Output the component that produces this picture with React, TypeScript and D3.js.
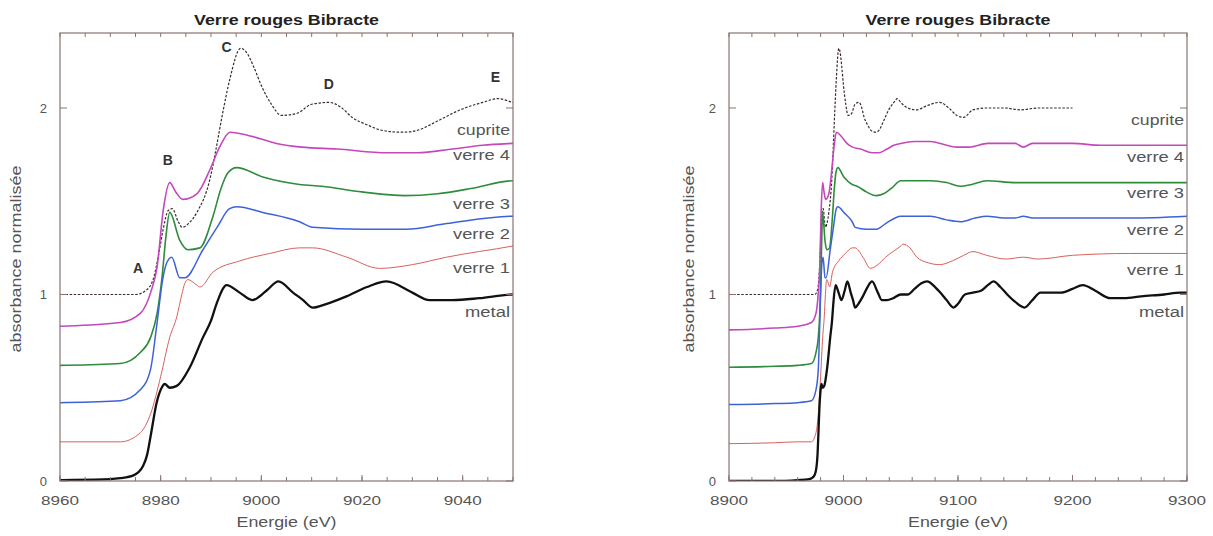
import React from 'react';
import * as d3 from 'd3';

// ---------- data (displayed, offset absorbance) ----------
const cupriteE = [8900, 8940, 8960, 8975, 8977, 8978.5, 8979.5, 8980.5, 8981.5, 8982.3, 8983.5, 8984.3, 8985.5, 8987.2, 8989.8, 8991, 8992.3, 8993.7, 8995.9, 8997, 8998.5, 9000, 9002, 9004, 9007, 9010, 9013.5, 9016, 9018, 9021, 9024, 9028, 9031, 9035, 9039.5, 9044, 9047, 9050, 9056, 9064, 9072, 9084, 9092, 9099, 9105, 9113, 9125, 9140, 9155, 9170, 9185, 9200];
const cupriteA = [1.0, 1.0, 1.0, 1.0, 1.02, 1.08, 1.2, 1.35, 1.45, 1.46, 1.39, 1.36, 1.38, 1.44, 1.62, 1.78, 1.97, 2.15, 2.32, 2.30, 2.22, 2.12, 2.02, 1.96, 1.97, 2.02, 2.03, 2.0, 1.95, 1.91, 1.88, 1.87, 1.88, 1.93, 1.99, 2.03, 2.05, 2.03, 2.0, 1.99, 2.01, 2.03, 2.0, 1.96, 1.95, 1.99, 2.0, 2.0, 1.99, 2.0, 2.0, 2.0];

const verre4E = [8900, 8940, 8960, 8972, 8976, 8978, 8979.3, 8980.5, 8981.8, 8983, 8984.4, 8987.2, 8989.8, 8991.7, 8993.8, 8997.8, 9003, 9008, 9015, 9025, 9031, 9038, 9044, 9050, 9062, 9076, 9090, 9100, 9110, 9126, 9140, 9150, 9157, 9165, 9180, 9200, 9225, 9250, 9275, 9300];
const verre4A = [0.81, 0.82, 0.83, 0.85, 0.90, 1.01, 1.15, 1.45, 1.60, 1.55, 1.51, 1.54, 1.67, 1.79, 1.87, 1.85, 1.81, 1.79, 1.78, 1.76, 1.76, 1.78, 1.80, 1.81, 1.82, 1.82, 1.80, 1.79, 1.79, 1.81, 1.81, 1.81, 1.79, 1.81, 1.81, 1.81, 1.80, 1.80, 1.80, 1.80];

const verre3E = [8900, 8940, 8960, 8972, 8976, 8978, 8979.3, 8980.3, 8981, 8981.8, 8983.8, 8985.4, 8987.8, 8990.4, 8992, 8993.3, 8995.1, 9000.3, 9007.6, 9012, 9020, 9028.5, 9035, 9042, 9050, 9062, 9076, 9090, 9102, 9112, 9125, 9150, 9175, 9200, 9250, 9300];
const verre3A = [0.61, 0.615, 0.62, 0.63, 0.69, 0.77, 0.9, 1.1, 1.3, 1.44, 1.29, 1.24, 1.25, 1.42, 1.57, 1.65, 1.68, 1.63, 1.59, 1.58, 1.55, 1.53, 1.54, 1.57, 1.61, 1.61, 1.61, 1.60, 1.58, 1.59, 1.61, 1.60, 1.60, 1.60, 1.60, 1.60];

const verre2E = [8900, 8940, 8960, 8972, 8976, 8978, 8979.2, 8980.4, 8981.2, 8982.2, 8983.8, 8984.8, 8988.4, 8991.2, 8993.7, 8995.1, 9000.3, 9007.6, 9010.2, 9020.1, 9028.8, 9036.8, 9050, 9062, 9076, 9090, 9102, 9115, 9125, 9140, 9150, 9157, 9165, 9200, 9250, 9300];
const verre2A = [0.41, 0.415, 0.42, 0.43, 0.49, 0.6, 0.83, 1.08, 1.17, 1.20, 1.09, 1.09, 1.24, 1.36, 1.46, 1.47, 1.44, 1.39, 1.36, 1.35, 1.35, 1.38, 1.42, 1.42, 1.42, 1.40, 1.39, 1.41, 1.42, 1.41, 1.41, 1.42, 1.41, 1.41, 1.41, 1.42];

const verre1E = [8900, 8940, 8960, 8972, 8976, 8978, 8980, 8981.8, 8983.2, 8984.2, 8984.8, 8985.4, 8987.2, 8987.8, 8990.4, 8995.7, 9001.7, 9007.6, 9010.2, 9017, 9023.5, 9030, 9036.8, 9050, 9052, 9058, 9064, 9074, 9084, 9095, 9105, 9113, 9125, 9142, 9157, 9170, 9200, 9250, 9300];
const verre1A = [0.2, 0.205, 0.21, 0.21, 0.26, 0.36, 0.56, 0.77, 0.88, 1.0, 1.06, 1.08, 1.05, 1.04, 1.12, 1.18, 1.22, 1.25, 1.25, 1.20, 1.14, 1.16, 1.20, 1.26, 1.27, 1.25, 1.20, 1.17, 1.16, 1.18, 1.21, 1.23, 1.21, 1.19, 1.20, 1.19, 1.21, 1.22, 1.22];

const metalE = [8900, 8940, 8960, 8970, 8972, 8974.6, 8976.5, 8977.3, 8978, 8979.2, 8980.2, 8980.8, 8981.8, 8983.2, 8985.8, 8988.4, 8990, 8991.1, 8993.1, 8995.7, 8998.2, 9001, 9003.4, 9006.3, 9008.3, 9010.2, 9013, 9016.9, 9021, 9024.9, 9030, 9033.4, 9038, 9043.3, 9050, 9056, 9062, 9068, 9073, 9080, 9086, 9090, 9096, 9100, 9106, 9113, 9120, 9126, 9131, 9137, 9143, 9150, 9158, 9165, 9172, 9180, 9190, 9200, 9209, 9220, 9233, 9245, 9260, 9280, 9294, 9300];
const metalA = [0.0, 0.0, 0.005, 0.01, 0.015, 0.03, 0.08, 0.14, 0.24, 0.42, 0.50, 0.52, 0.50, 0.51, 0.61, 0.77, 0.86, 0.95, 1.05, 1.01, 0.97, 1.02, 1.07, 1.01, 0.97, 0.93, 0.95, 0.99, 1.04, 1.07, 1.01, 0.97, 0.97, 0.98, 1.0, 1.0, 1.03, 1.06, 1.07, 1.04, 1.0, 0.97, 0.93, 0.95, 1.0, 1.01, 1.02, 1.05, 1.07, 1.04, 1.0, 0.96, 0.93, 0.97, 1.01, 1.01, 1.01, 1.03, 1.05, 1.02, 0.98, 0.98, 0.99, 1.0, 1.01, 1.01];

const seriesNames = ['cuprite', 'verre 4', 'verre 3', 'verre 2', 'verre 1', 'metal'];
const seriesE = [cupriteE, verre4E, verre3E, verre2E, verre1E, metalE];
const seriesA = [cupriteA, verre4A, verre3A, verre2A, verre1A, metalA];

const leftTicks = [8960, 8980, 9000, 9020, 9040];
const rightTicks = [8900, 9000, 9100, 9200, 9300];
const yTicks = [0, 1, 2];

const peakLabels = ['A', 'B', 'C', 'D', 'E'];
const peakE = [8975.5, 8981.4, 8993.1, 9013.4, 9046.5];
const peakA = [1.142, 1.72, 2.327, 2.129, 2.166];

const title = 'Verre rouges Bibracte';
const xTitle = 'Energie (eV)';
const yTitle = 'absorbance normalisée';

// ---------- styles ----------
const styles = [
  { stroke: '#3a2c2c', width: 1.2, dash: '2.5,1.6' },
  { stroke: '#c448bc', width: 1.6, dash: null },
  { stroke: '#2e8c3c', width: 1.6, dash: null },
  { stroke: '#3d62d8', width: 1.5, dash: null },
  { stroke: '#d8605c', width: 1.0, dash: null },
  { stroke: '#111111', width: 2.3, dash: null },
];
const labelWidths = [53, 57, 57, 57, 57, 45];
const FONT = '"Liberation Sans", Arial, Helvetica, sans-serif';
const AXIS = '#8c7272';
const TXT = '#555';

const panels = [
  { id: 'L', x0: 60, x1: 513, domain: [8960, 9050], ticks: leftTicks, minor: 5, labelY: [130, 155, 204, 234, 268, 312], peaks: true, yLabelX: 16 },
  { id: 'R', x0: 729, x1: 1187, domain: [8900, 9300], ticks: rightTicks, minor: 20, labelY: [120, 157, 193, 230, 270, 312], peaks: false, yLabelX: 689 },
];

const Y0 = 481, Y1 = 33;

function Panel({ p }: { p: any }) {
  const x = d3.scaleLinear().domain(p.domain).range([p.x0, p.x1]);
  const y = d3.scaleLinear().domain([0, 2.402]).range([Y0, Y1]);
  const line = d3.line<[number, number]>().x(d => x(d[0])).y(d => y(d[1])).curve(d3.curveMonotoneX);
  const minors = d3.range(p.domain[0], p.domain[1] + 0.001, p.minor);
  const cx = (p.x0 + p.x1) / 2;
  return (
    <g>
      <defs>
        <clipPath id={'clip' + p.id}>
          <rect x={p.x0} y={Y1} width={p.x1 - p.x0} height={Y0 - Y1} />
        </clipPath>
      </defs>
      <g clipPath={`url(#clip${p.id})`}>
        {seriesE.map((es, i) => {
          const pts: [number, number][] = es.map((e, k) => [e, seriesA[i][k]]);
          const s = styles[i];
          return <path key={i} d={line(pts) || ''} fill="none" stroke={s.stroke} strokeWidth={s.width}
            strokeDasharray={s.dash || undefined} strokeLinejoin="round" />;
        })}
      </g>
      {/* frame */}
      <rect x={p.x0} y={Y1} width={p.x1 - p.x0} height={Y0 - Y1} fill="none" stroke={AXIS} strokeWidth={1.2} />
      {minors.map((t, i) => (
        <g key={'m' + i}>
          <line x1={x(t)} x2={x(t)} y1={Y0} y2={Y0 - 4} stroke={AXIS} strokeWidth={1} />
          <line x1={x(t)} x2={x(t)} y1={Y1} y2={Y1 + 4} stroke={AXIS} strokeWidth={1} />
        </g>
      ))}
      {p.ticks.map((t: number, i: number) => (
        <g key={'t' + i}>
          <line x1={x(t)} x2={x(t)} y1={Y0} y2={Y0 - 6} stroke={AXIS} strokeWidth={1} />
          <text x={x(t)} y={505} textAnchor="middle" fontSize={13} fill={TXT} fontFamily={FONT}
            textLength={38} lengthAdjust="spacingAndGlyphs">{t}</text>
        </g>
      ))}
      {yTicks.map((t, i) => (
        <g key={'y' + i}>
          <line x1={p.x0} x2={p.x0 + 7} y1={y(t)} y2={y(t)} stroke={AXIS} strokeWidth={1} />
          <line x1={p.x1} x2={p.x1 - 7} y1={y(t)} y2={y(t)} stroke={AXIS} strokeWidth={1} />
          <text x={p.x0 - 13} y={y(t) + 5} textAnchor="end" fontSize={13} fill={TXT} fontFamily={FONT}>{t}</text>
        </g>
      ))}
      {/* series labels */}
      {seriesNames.map((n, i) => (
        <text key={'l' + i} x={p.x1 - 3} y={p.labelY[i] + 5} textAnchor="end" fontSize={14} fill={TXT}
          fontFamily={FONT} textLength={labelWidths[i]} lengthAdjust="spacingAndGlyphs">{n}</text>
      ))}
      {p.peaks && peakLabels.map((l, i) => (
        <text key={'p' + i} x={x(peakE[i])} y={y(peakA[i]) + 5} textAnchor="middle" fontSize={14}
          fontWeight="bold" fill="#333" fontFamily={FONT}>{l}</text>
      ))}
      <text x={cx} y={25} textAnchor="middle" fontSize={14} fontWeight="bold" fill="#222" fontFamily={FONT}
        textLength={185} lengthAdjust="spacingAndGlyphs">{title}</text>
      <text x={cx} y={527} textAnchor="middle" fontSize={14} fill={TXT} fontFamily={FONT}
        textLength={100} lengthAdjust="spacingAndGlyphs">{xTitle}</text>
      <text transform={`translate(${p.yLabelX},${(Y0 + Y1) / 2 + 2}) rotate(-90)`} x={0} y={5} textAnchor="middle"
        fontSize={14} fill={TXT} fontFamily={FONT} textLength={187} lengthAdjust="spacingAndGlyphs">{yTitle}</text>
    </g>
  );
}

export default function App() {
  return (
    <svg width={1213} height={536} style={{ position: 'absolute', left: 0, top: 0, background: '#fff' }}>
      <rect x={0} y={0} width={1213} height={536} fill="#fff" />
      {panels.map(p => <Panel key={p.id} p={p} />)}
    </svg>
  );
}
